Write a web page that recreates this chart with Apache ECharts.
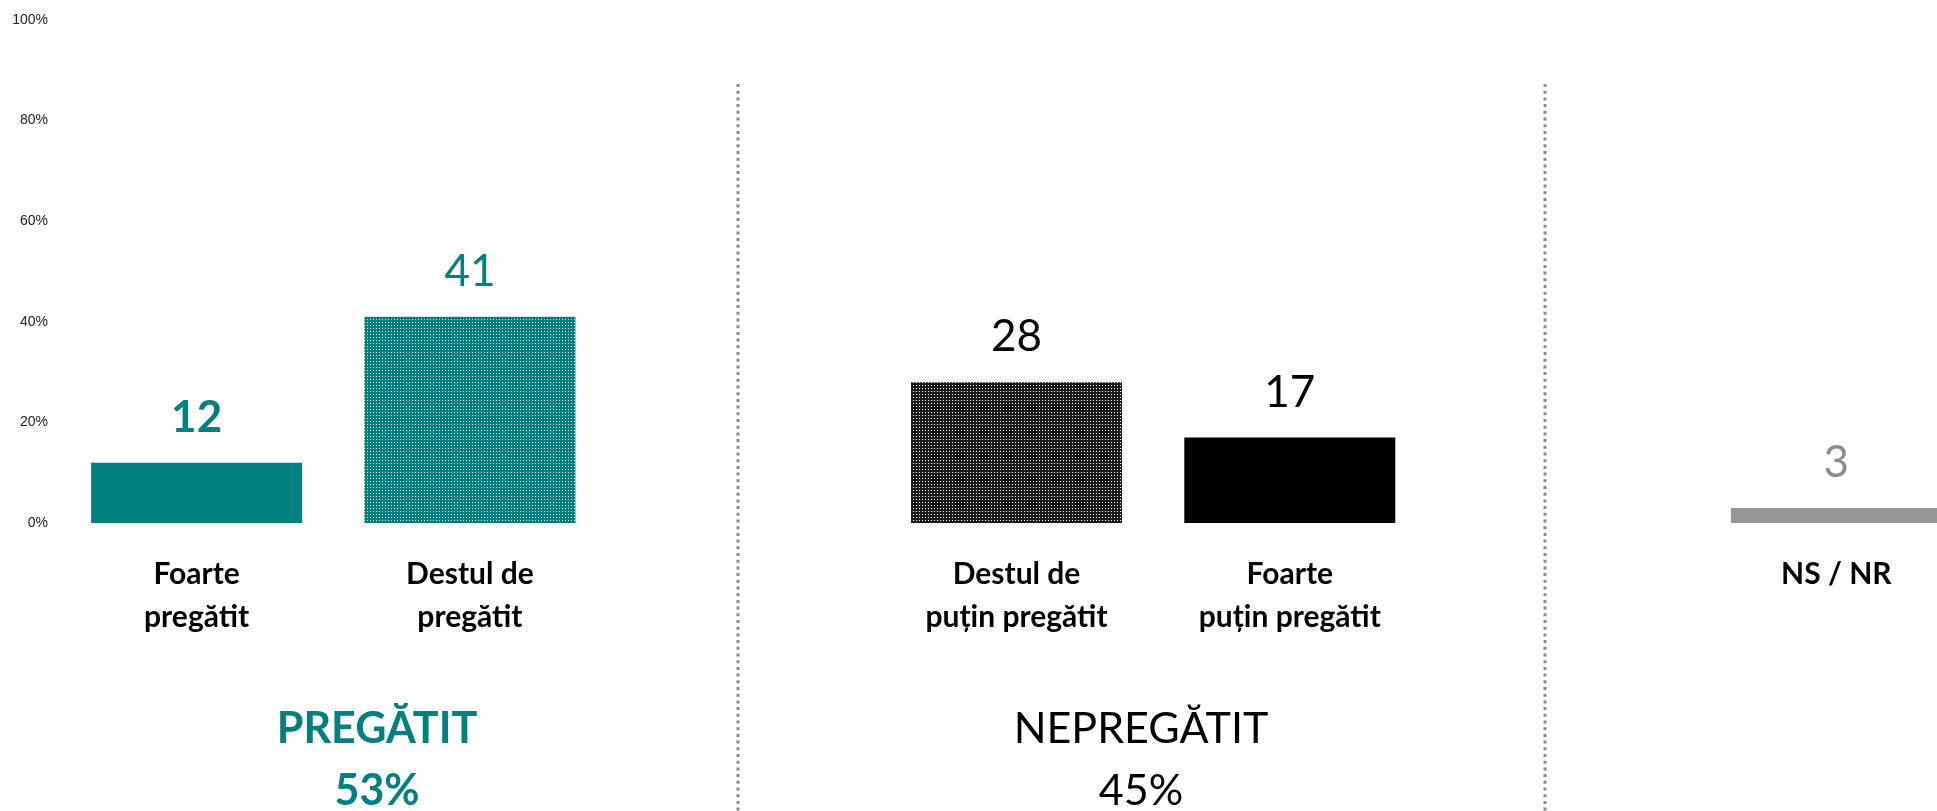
<!DOCTYPE html>
<html lang="ro">
<head>
    <meta charset="UTF-8">
    <title>Pregătit / Nepregătit</title>
    <style>
        html, body { margin: 0; padding: 0; background: #fff; }
    </style>
</head>
<body>
<div id="main" style="width: 1937px;height:811px;"></div>
<script src="https://cdn.jsdelivr.net/npm/echarts@6/dist/echarts.min.js"></script>
<script>
    // categorii (golurile separa grupurile)
    var categorii = ['Foarte\npregătit', 'Destul de\npregătit', '', 'Destul de\npuțin pregătit', 'Foarte\npuțin pregătit', '', 'NS / NR'];
    var procente = [12, 41, null, 28, 17, null, 3];
    var axaY = [0, 20, 40, 60, 80, 100];
    var grupuri = ['PREGĂTIT', 'NEPREGĂTIT'];

    var teal = '#00807f';

    // umplere punctata pentru barele "Destul de"
    function puncte(fundal, punct) {
        var c = document.createElement('canvas');
        c.width = 3;
        c.height = 3;
        var ctx = c.getContext('2d');
        ctx.fillStyle = fundal;
        ctx.fillRect(0, 0, 3, 3);
        ctx.fillStyle = punct;
        ctx.fillRect(1, 1, 1, 1);
        return { image: c, repeat: 'repeat' };
    }

    var stiluri = [
        { color: teal, label: teal, bold: true },
        { color: puncte(teal, '#ffffff'), label: teal, bold: false },
        null,
        { color: puncte('#1a1a1a', '#ffffff'), label: '#000', bold: false },
        { color: '#000', label: '#000', bold: false },
        null,
        { color: '#969696', label: '#8c8c8c', bold: false }
    ];

    var date = procente.map(function (v, i) {
        var s = stiluri[i];
        if (v === null) return '-';
        return {
            value: v,
            itemStyle: { color: s.color },
            label: {
                color: s.label,
                fontWeight: s.bold ? 'bold' : 'normal'
            }
        };
    });

    var pregatit = procente[0] + procente[1];
    var nepregatit = procente[3] + procente[4];

    var myChart = echarts.init(document.getElementById('main'));

    var option = {
        animation: false,
        grid: {
            left: 60,
            top: 20,
            width: 1913,
            height: 503,
            outerBoundsMode: 'none'
        },
        xAxis: {
            type: 'category',
            data: categorii,
            axisLine: { show: false },
            axisTick: { show: false },
            axisLabel: {
                interval: 0,
                margin: 30,
                fontFamily: 'Lato',
                fontSize: 30,
                fontWeight: 'bold',
                lineHeight: 43,
                color: '#000'
            }
        },
        yAxis: {
            type: 'value',
            min: axaY[0],
            max: axaY[axaY.length - 1],
            interval: axaY[1] - axaY[0],
            splitLine: { show: false },
            axisLine: { show: false },
            axisTick: { show: false },
            axisLabel: {
                formatter: '{value}%',
                margin: 12,
                fontFamily: 'Liberation Sans',
                fontSize: 14,
                color: '#222'
            }
        },
        series: [
            {
                type: 'bar',
                data: date,
                barWidth: 211,
                label: {
                    show: true,
                    position: 'top',
                    distance: 23,
                    fontFamily: 'Lato',
                    fontSize: 44
                }
            }
        ],
        graphic: [
            // separatoare punctate intre grupuri
            {
                type: 'line',
                shape: { x1: 738, y1: 84, x2: 738, y2: 811 },
                style: { stroke: '#8a8a8a', lineWidth: 3, lineDash: [3, 3.7] }
            },
            {
                type: 'line',
                shape: { x1: 1545, y1: 84, x2: 1545, y2: 811 },
                style: { stroke: '#8a8a8a', lineWidth: 3, lineDash: [3, 3.7] }
            },
            {
                type: 'text',
                x: 377,
                y: 698,
                style: {
                    text: grupuri[0] + '\n' + pregatit + '%',
                    textAlign: 'center',
                    textVerticalAlign: 'top',
                    fontFamily: 'Lato',
                    fontSize: 43,
                    fontWeight: 'bold',
                    lineHeight: 62,
                    fill: teal
                }
            },
            {
                type: 'text',
                x: 1141,
                y: 698,
                style: {
                    text: grupuri[1] + '\n' + nepregatit + '%',
                    textAlign: 'center',
                    textVerticalAlign: 'top',
                    fontFamily: 'Lato',
                    fontSize: 43,
                    lineHeight: 62,
                    fill: '#000'
                }
            }
        ]
    };

    myChart.setOption(option);
</script>
</body>
</html>
